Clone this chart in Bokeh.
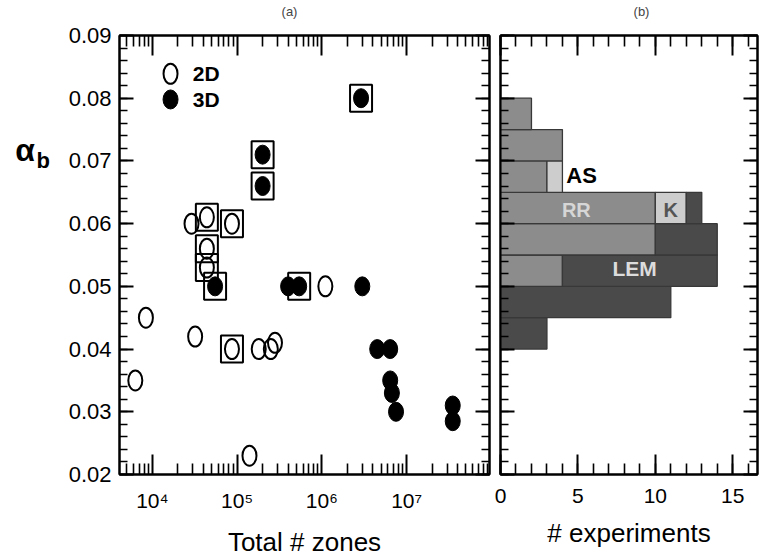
import numpy as np
from bokeh.plotting import figure
from bokeh.layouts import row, column
from bokeh.models import Range1d, LogAxis, LinearAxis, FixedTicker, ColumnDataSource
from bokeh.embed import file_html
from bokeh.resources import INLINE
from bokeh.core.properties import value

FONT = "Liberation Sans"

# ---- panel (a): alpha_b against total number of zones ----
# 2D simulations (open symbols)
zones_2d = [6.3e3, 8.4e3, 3.2e4, 2.9e4, 4.4e4, 8.7e4, 4.4e4, 4.4e4, 8.7e4,
            1.8e5, 2.5e5, 2.8e5, 1.4e5, 1.1e6]
alpha_2d = [0.035, 0.045, 0.042, 0.060, 0.061, 0.060, 0.056, 0.053, 0.040,
            0.040, 0.040, 0.041, 0.023, 0.050]
boxed_2d = [False, False, False, False, True, True, True, True, True,
            False, False, False, False, False]

# 3D simulations (filled symbols)
zones_3d = [2.9e6, 2.0e5, 2.0e5, 5.5e4, 4.0e5, 5.4e5, 3.0e6, 4.5e6, 6.4e6,
            6.4e6, 6.7e6, 7.5e6, 3.5e7, 3.5e7]
alpha_3d = [0.080, 0.071, 0.066, 0.050, 0.050, 0.050, 0.050, 0.040, 0.040,
            0.035, 0.033, 0.030, 0.031, 0.0285]
boxed_3d = [True, True, True, True, False, True, False, False, False,
            False, False, False, False, False]

x_major = [1e4, 1e5, 1e6, 1e7]
x_labels = ["10\u2074", "10\u2075", "10\u2076", "10\u2077"]
y_major = [0.02, 0.03, 0.04, 0.05, 0.06, 0.07, 0.08, 0.09]

# ---- panel (b): histogram of experimental alpha_b ----
bin_lo = [0.040, 0.045, 0.050, 0.055, 0.060, 0.065, 0.070, 0.075]
bin_hi = [0.045, 0.050, 0.055, 0.060, 0.065, 0.070, 0.075, 0.080]
n_rr = [0, 0, 4, 10, 10, 3, 4, 2]
n_as = [0, 0, 0, 0, 0, 1, 0, 0]
n_k = [0, 0, 0, 0, 2, 0, 0, 0]
n_lem = [3, 11, 10, 4, 1, 0, 0, 0]
count_major = [0, 5, 10, 15]

panel_tags = ["(a)", "(b)"]

C_MID = "#8c8c8c"
C_LIGHT = "#cdcdcd"
C_DARK = "#4a4a4a"


def style_axis(ax, labels=True, tick_font="21px", major_len=14, minor_len=8, standoff=8):
    ax.axis_line_color = "black"
    ax.axis_line_width = 2
    ax.major_tick_line_color = "black"
    ax.major_tick_line_width = 2
    ax.minor_tick_line_color = "black"
    ax.minor_tick_line_width = 1.6
    ax.major_tick_in = major_len
    ax.major_tick_out = 0
    ax.minor_tick_in = minor_len
    ax.minor_tick_out = 0
    ax.major_label_text_font = FONT
    ax.axis_label_text_font = FONT
    ax.axis_label_text_font_style = "normal"
    ax.axis_label_text_color = "black"
    if labels:
        ax.major_label_text_color = "black"
        ax.major_label_text_font_size = tick_font
        ax.major_label_standoff = standoff
    else:
        ax.major_label_text_color = None
        ax.major_label_text_font_size = "1px"
        ax.major_label_standoff = 0


def blank_strip(w, h):
    s = figure(title=None, x_range=Range1d(0, w), y_range=Range1d(0, h),
               frame_width=w, frame_height=h, min_border=0,
               x_axis_location=None, y_axis_location=None,
               output_backend="svg", toolbar_location=None,
               background_fill_color="white", border_fill_color="white")
    s.grid.visible = False
    s.outline_line_color = None
    return s


x_ticker = FixedTicker(ticks=x_major,
                       minor_ticks=[m * 10.0 ** d for d in range(3, 8) for m in range(2, 10)])
y_ticker = FixedTicker(ticks=y_major,
                       minor_ticks=[round(0.02 + 0.002 * i, 4) for i in range(36)])

# ---- strip with the panel tags ----
tags = blank_strip(759, 22)
tags.text(x=[289, 641], y=[11, 11], text=panel_tags, text_font=value(FONT),
          text_font_size="13px", text_align="center", text_baseline="middle",
          text_color="#444444")

# ---- strip holding the vertical-axis symbol ----
p0 = blank_strip(60, 537)
p0.text(x=[24.5], y=[423], text=["\u03b1"], text_font=value(FONT), text_font_size="32px",
        text_font_style="bold", text_align="center", text_baseline="middle", text_color="black")
p0.text(x=[36], y=[412], text=["b"], text_font=value(FONT), text_font_size="22px",
        text_font_style="bold", text_align="left", text_baseline="alphabetic", text_color="black")

# ---- panel (a) ----
p1 = figure(title=None, x_axis_type="log", x_range=Range1d(4.1e3, 9.5e7),
            y_range=Range1d(0.02, 0.09),
            frame_width=370, frame_height=439,
            min_border_left=59, min_border_right=4, min_border_top=13, min_border_bottom=85,
            output_backend="svg", toolbar_location=None,
            background_fill_color="white", border_fill_color="white")
p1.grid.visible = False
p1.outline_line_color = "black"
p1.outline_line_width = 2

p1.xaxis.ticker = x_ticker
p1.xaxis.major_label_overrides = {10000: x_labels[0], 100000: x_labels[1],
                                  1000000: x_labels[2], 10000000: x_labels[3]}
p1.yaxis.ticker = y_ticker
style_axis(p1.xaxis[0], tick_font="21px", major_len=20, minor_len=11, standoff=14)
style_axis(p1.yaxis[0], tick_font="22px")
p1.xaxis.axis_label = "Total # zones"
p1.xaxis.axis_label_text_font_size = "26px"
p1.xaxis.axis_label_standoff = 12

top1 = LogAxis(ticker=x_ticker)
style_axis(top1, labels=False, major_len=20, minor_len=11)
p1.add_layout(top1, "above")
right1 = LinearAxis(ticker=y_ticker)
style_axis(right1, labels=False)
p1.add_layout(right1, "right")

src2 = ColumnDataSource(dict(x=zones_2d, y=alpha_2d))
src3 = ColumnDataSource(dict(x=zones_3d, y=alpha_3d))
box_x = [x for x, b in zip(zones_2d, boxed_2d) if b] + [x for x, b in zip(zones_3d, boxed_3d) if b]
box_y = [y for y, b in zip(alpha_2d, boxed_2d) if b] + [y for y, b in zip(alpha_3d, boxed_3d) if b]

p1.rect(x=box_x, y=box_y, width=22, height=27, width_units="screen", height_units="screen",
        fill_alpha=0, line_color="black", line_width=2)
p1.ellipse(x="x", y="y", width=14, height=20, width_units="screen", height_units="screen",
           fill_alpha=0, line_color="black", line_width=2, source=src2)
p1.ellipse(x="x", y="y", width=15, height=19, width_units="screen", height_units="screen",
           fill_color="black", line_color="black", line_width=1, source=src3)

# key
p1.ellipse(x=[1.64e4], y=[0.0839], width=14, height=20, width_units="screen", height_units="screen",
           fill_alpha=0, line_color="black", line_width=2)
p1.ellipse(x=[1.64e4], y=[0.0798], width=15, height=19, width_units="screen", height_units="screen",
           fill_color="black", line_color="black")
p1.text(x=[3.0e4, 3.0e4], y=[0.0839, 0.0798], text=["2D", "3D"],
        text_font=value(FONT), text_font_size="21px", text_font_style="bold",
        text_align="left", text_baseline="middle", text_color="black")

# ---- panel (b) ----
p2 = figure(title=None, x_range=Range1d(0, 16.6), y_range=Range1d(0.02, 0.09),
            frame_width=257, frame_height=439,
            min_border_left=7, min_border_right=2, min_border_top=13, min_border_bottom=85,
            output_backend="svg", toolbar_location=None,
            background_fill_color="white", border_fill_color="white")
p2.grid.visible = False
p2.outline_line_color = "black"
p2.outline_line_width = 2

c_ticker = FixedTicker(ticks=count_major, minor_ticks=list(range(0, 17)))
p2.xaxis.ticker = c_ticker
style_axis(p2.xaxis[0], tick_font="21px", major_len=20, minor_len=11, standoff=14)
p2.xaxis.axis_label = "# experiments"
p2.xaxis.axis_label_text_font_size = "26px"
p2.xaxis.axis_label_standoff = 12
p2.yaxis.ticker = y_ticker
style_axis(p2.yaxis[0], labels=False)
top2 = LinearAxis(ticker=c_ticker)
style_axis(top2, labels=False, major_len=20, minor_len=11)
p2.add_layout(top2, "above")
right2 = LinearAxis(ticker=y_ticker)
style_axis(right2, labels=False)
p2.add_layout(right2, "right")

# stacked bars: RR, then AS / K, then LEM
segs = dict(left=[], right=[], bottom=[], top=[], color=[])
for lo, hi, rr, a_s, k, lem in zip(bin_lo, bin_hi, n_rr, n_as, n_k, n_lem):
    edge = 0
    for n, col in ((rr, C_MID), (a_s, C_LIGHT), (k, C_LIGHT), (lem, C_DARK)):
        if n > 0:
            segs["left"].append(edge)
            segs["right"].append(edge + n)
            segs["bottom"].append(lo)
            segs["top"].append(hi)
            segs["color"].append(col)
            edge += n
p2.quad(left="left", right="right", bottom="bottom", top="top", fill_color="color",
        line_color="#383838", line_width=1.3, source=ColumnDataSource(segs))

p2.text(x=[4.25], y=[0.0677], text=["AS"], text_font=value(FONT), text_font_size="22px",
        text_font_style="bold", text_align="left", text_baseline="middle", text_color="black")
p2.text(x=[4.9], y=[0.0621], text=["RR"], text_font=value(FONT), text_font_size="20px",
        text_font_style="bold", text_align="center", text_baseline="middle", text_color="#d6d6d6")
p2.text(x=[11.0], y=[0.0622], text=["K"], text_font=value(FONT), text_font_size="20px",
        text_font_style="bold", text_align="center", text_baseline="middle", text_color="#555555")
p2.text(x=[8.66], y=[0.0528], text=["LEM"], text_font=value(FONT), text_font_size="21px",
        text_font_style="bold", text_align="center", text_baseline="middle", text_color="#dcdcdc")

panels = row(p0, p1, p2)
panels.spacing = 0
layout = column(tags, panels)
layout.spacing = 0
open("out.html", "w").write(file_html(layout, INLINE))
